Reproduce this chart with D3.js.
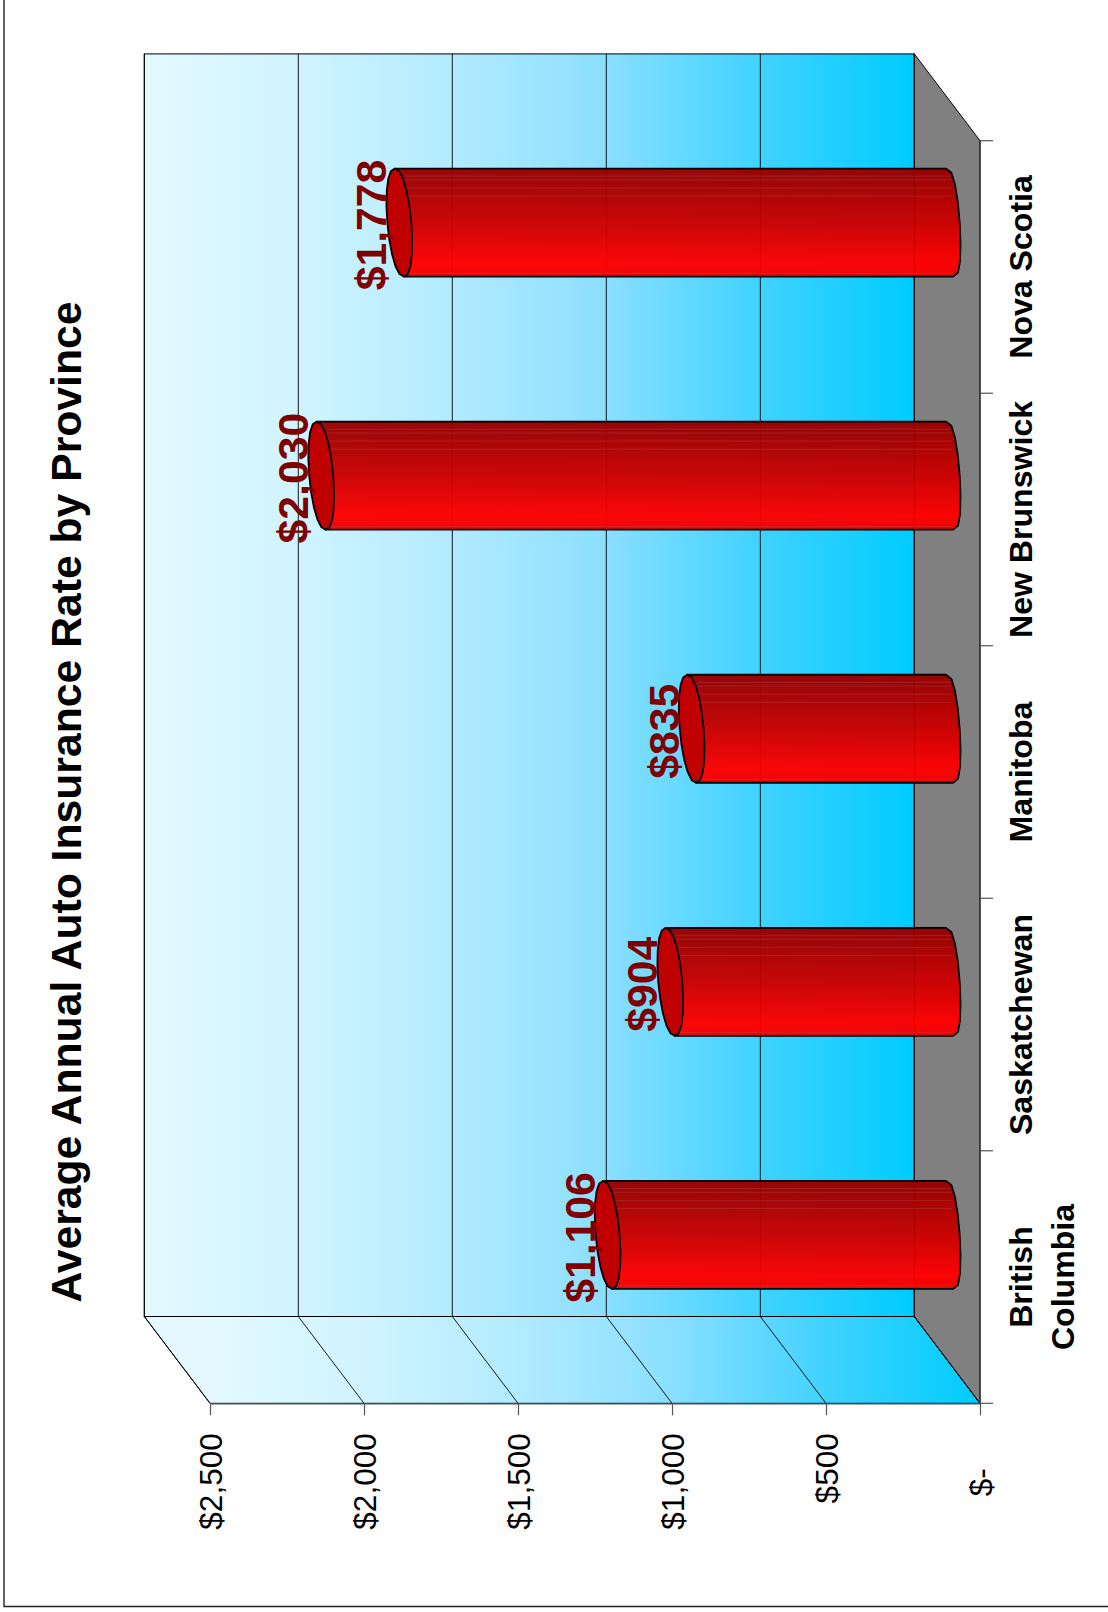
<!DOCTYPE html>
<html><head><meta charset="utf-8">
<script src="https://cdn.jsdelivr.net/npm/d3@7"></script>
<style>html,body{margin:0;padding:0;background:#fff}svg{display:block}</style>
</head><body><div id="chart"></div>
<script>
const categories = ["British Columbia","Saskatchewan","Manitoba","New Brunswick","Nova Scotia"];
const values = [1106,904,835,2030,1778];
const valueLabels = ["$1,106","$904","$835","$2,030","$1,778"];
const tickValues = [0,500,1000,1500,2000,2500];
const tickLabels = ["$-","$500","$1,000","$1,500","$2,000","$2,500"];
const titleText = "Average Annual Auto Insurance Rate by Province";

const W=1108,H=1612;
const svg=d3.select("#chart").append("svg").attr("width",W).attr("height",H);
const font="'Liberation Sans',Arial,sans-serif";
const defs=svg.append("defs");
const wallStops=[[0,"#e3f9ff"],[.2,"#d0f4ff"],[.4,"#b2ebff"],[.6,"#8adfff"],[.8,"#40d2ff"],[1,"#00ccff"]];
function hGrad(id,x1,x2){const g=defs.append("linearGradient").attr("id",id).attr("gradientUnits","userSpaceOnUse")
  .attr("x1",x1).attr("x2",x2).attr("y1",0).attr("y2",0);
  wallStops.forEach(s=>g.append("stop").attr("offset",s[0]).attr("stop-color",s[1]));}

// scales
const x=d3.scaleLinear().domain([0,2500]).range([980,210]);
const y=d3.scaleBand().domain(categories).range([1403.3,140.7]);
const barX=d3.scaleLinear().domain([0,2500]).range([950.5,175.5]);
const barY=d3.scaleBand().domain(categories).range([1361.5,96]);
const depth={dx:-65.7,dy:-86.8};
const x0=x(0),x1=x(2500),yF=y.range()[0],yB=y.range()[1];

hGrad("backG",x1+depth.dx,x0+depth.dx);
hGrad("sideG",x1,x0);

// walls
const line=d3.line();
svg.append("rect").attr("x",x1+depth.dx).attr("y",yB+depth.dy).attr("width",x0-x1).attr("height",yF-yB)
  .attr("fill","url(#backG)").attr("stroke","#000").attr("stroke-width",1);
svg.append("path").attr("d",line([[x1+depth.dx,yF+depth.dy],[x0+depth.dx,yF+depth.dy],[x0,yF],[x1,yF]])+"Z")
  .attr("fill","url(#sideG)").attr("stroke","#000").attr("stroke-width",1);
svg.append("path").attr("d",line([[x0+depth.dx,yB+depth.dy],[x0,yB],[x0,yF],[x0+depth.dx,yF+depth.dy]])+"Z")
  .attr("fill","#808080").attr("stroke","#000").attr("stroke-width",1);

// gridlines
svg.selectAll(".grid").data(tickValues).join("path").attr("class","grid")
  .attr("d",d=>line([[x(d),yF],[x(d)+depth.dx,yF+depth.dy],[x(d)+depth.dx,yB+depth.dy]]))
  .attr("fill","none").attr("stroke","#000").attr("stroke-width",.9);

// axes
const axisV=svg.append("g").attr("transform",`translate(0,${yF})`)
  .call(d3.axisBottom(x).tickValues(tickValues).tickSize(12).tickSizeOuter(0).tickFormat(d=>tickLabels[tickValues.indexOf(d)]));
axisV.select(".domain").attr("stroke","#555").attr("stroke-width",1.2);
axisV.selectAll(".tick line").attr("stroke","#555").attr("stroke-width",1.2);
axisV.selectAll(".tick text")
  .attr("font-family",font).attr("font-size",31.5).attr("fill","#000")
  .attr("text-anchor","end").attr("dy",0).attr("y",0)
  .attr("transform",d=>`translate(11,${d===0?65:30}) rotate(-90)`);

const catEdges=categories.map(c=>y(c)+y.bandwidth()).concat([yB]);
svg.selectAll(".ctick").data(catEdges).join("line").attr("class","ctick")
  .attr("x1",x0).attr("x2",x0+13).attr("y1",d=>d).attr("y2",d=>d).attr("stroke","#555").attr("stroke-width",1.2);
svg.append("line").attr("x1",x0).attr("x2",x0).attr("y1",yB).attr("y2",yF).attr("stroke","#333").attr("stroke-width",1.2);

// category labels
const catLines={"British Columbia":["British","Columbia"]};
categories.forEach(c=>{
  const t=svg.append("text").attr("transform",`translate(1032,${y(c)+y.bandwidth()/2}) rotate(-90)`)
    .attr("font-family",font).attr("font-weight","bold").attr("font-size",32.1).attr("text-anchor","middle").attr("fill","#000");
  (catLines[c]||[c]).forEach((l,i)=>t.append("tspan").attr("x",0).attr("y",i*41.5).text(l));
});

// bars
const redG=defs.append("linearGradient").attr("id","redG").attr("x1",0).attr("x2",0).attr("y1",0).attr("y2",1);
[[0,"#960000"],[.5,"#cc0000"],[.88,"#ff0000"],[1,"#f00000"]].forEach(s=>redG.append("stop").attr("offset",s[0]).attr("stop-color",s[1]));
const ry=54,N=16;
const sp=(v,e)=>Math.sign(v)*Math.pow(Math.abs(v),e);
const ell=(cx,cy,t,rx,sk,e)=>[cx+rx*sp(Math.cos(t),e)+sk*Math.sin(t),cy+ry*Math.sin(t)];
const stripes=[.07,.105,.18,.255,.97];
categories.forEach((c,i)=>{
  const cy=barY(c)+barY.bandwidth()/2,cxT=barX(values[i]),cxB=barX(0)-1;
  const pts=[];
  pts.push(ell(cxT,cy,-Math.PI/2,12,4.5,1));
  for(let k=0;k<=N/2;k++){const t=-Math.PI/2+k/(N/2)*Math.PI;pts.push(ell(cxB,cy,t,10.2,3.6,.7));}
  pts.push(ell(cxT,cy,Math.PI/2,12,4.5,1));
  svg.append("path").attr("d",line(pts)+"Z").attr("fill","url(#redG)").attr("fill-opacity",.97);
  stripes.forEach(f=>{const yy=cy-ry+f*2*ry;
    svg.append("line").attr("x1",cxT+6).attr("x2",cxB+2).attr("y1",yy).attr("y2",yy).attr("stroke","#b85050").attr("stroke-width",.7).attr("opacity",.5);});
  svg.append("path").attr("d",line(pts)+"Z").attr("fill","none").attr("stroke","#000").attr("stroke-width",1.8).attr("stroke-linejoin","round");
  const ePts=d3.range(N+4).map(k=>ell(cxT,cy,k/(N+4)*2*Math.PI,12,4.5,.9));
  svg.append("path").attr("d",line(ePts)+"Z").attr("fill","#c00000").attr("stroke","#000").attr("stroke-width",1.8).attr("stroke-linejoin","round");
  svg.append("text").attr("transform",`translate(${cxT-13},${cy+2.5}) rotate(-90)`)
    .attr("font-family",font).attr("font-weight","bold").attr("font-size",42.7).attr("text-anchor","middle").attr("fill","#800000").text(valueLabels[i]);
});

// title
svg.append("text").attr("transform",`translate(81,802) rotate(-90)`)
  .attr("font-family",font).attr("font-weight","bold").attr("font-size",42.7).attr("text-anchor","middle").attr("fill","#000").text(titleText);

// outer frame
svg.append("path").attr("d",line([[4,0],[4,1606.5],[W,1606.5]])).attr("fill","none").attr("stroke","#222").attr("stroke-width",1.4);
</script></body></html>
